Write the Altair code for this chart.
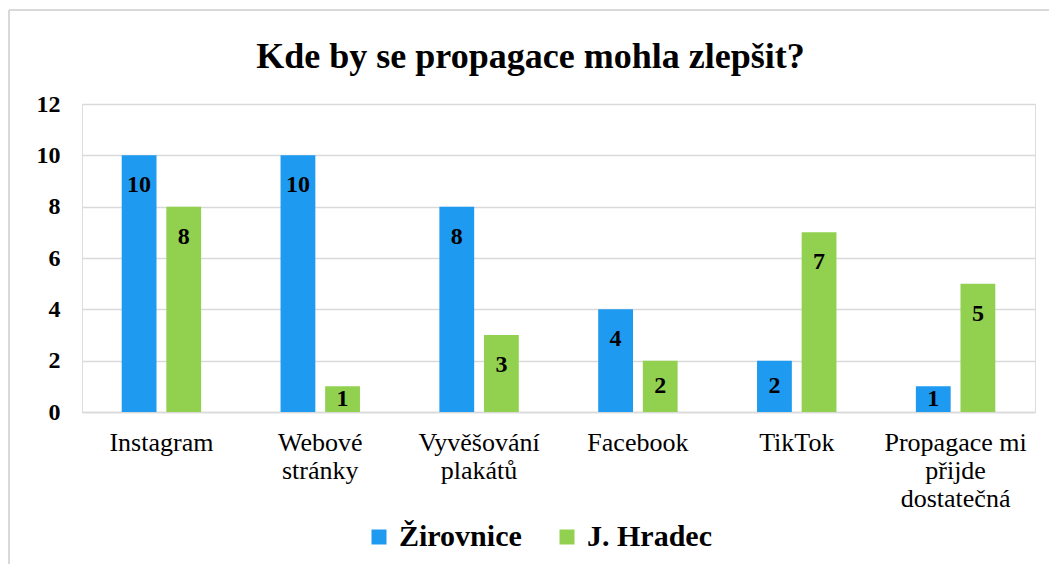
import altair as alt
import pandas as pd

categories = ["Instagram", "Webové stránky", "Vyvěšování plakátů", "Facebook", "TikTok",
              "Propagace mi přijde dostatečná"]
tick_lines = [["Instagram"], ["Webové", "stránky"], ["Vyvěšování", "plakátů"], ["Facebook"],
              ["TikTok"], ["Propagace mi", "přijde", "dostatečná"]]
series = ["Žirovnice", "J. Hradec"]
zirovnice = [10, 10, 8, 4, 2, 1]
hradec = [8, 1, 3, 2, 7, 5]
colors = ["#1e9bf0", "#92d050"]
y_ticks = [0, 2, 4, 6, 8, 10, 12]
title_text = "Kde by se propagace mohla zlepšit?"

rows = []
for i, c in enumerate(categories):
    rows.append({"category": c, "series": series[0], "value": zirovnice[i]})
    rows.append({"category": c, "series": series[1], "value": hradec[i]})
df = pd.DataFrame(rows)

# multi-line tick labels
expr = "datum.label"
for c, lines in zip(reversed(categories), reversed(tick_lines)):
    arr = "[" + ",".join("'" + l + "'" for l in lines) + "]"
    expr = f"datum.label == '{c}' ? {arr} : ({expr})"

FONT = "Liberation Serif"
GRID = "#d9d9d9"

x_enc = alt.X("category:N", sort=categories,
              scale=alt.Scale(paddingInner=0.5, paddingOuter=0.25),
              axis=alt.Axis(title=None, labelAngle=0, labelExpr=expr, labelFont=FONT,
                            labelFontSize=26, labelLineHeight=28, labelPadding=17,
                            ticks=False, domainColor=GRID, domainWidth=1.5,
                            labelColor="black"))
xo_enc = alt.XOffset("series:N", sort=series, scale=alt.Scale(paddingInner=0.22))
y_scale = alt.Scale(domain=[0, 12], nice=False)

base = alt.Chart(df)

bars = base.mark_bar().encode(
    x=x_enc,
    xOffset=xo_enc,
    y=alt.Y("value:Q", scale=y_scale,
            axis=alt.Axis(values=y_ticks, title=None, domain=False, ticks=False,
                          gridColor=GRID, gridWidth=1.5, labelFont=FONT, labelFontSize=24,
                          labelFontWeight="bold", labelPadding=22, labelColor="black")),
    color=alt.Color("series:N", sort=series,
                    scale=alt.Scale(domain=series, range=colors),
                    legend=alt.Legend(title=None, orient="none", direction="horizontal",
                                      legendX=282, legendY=418, symbolType="square",
                                      symbolSize=225, symbolStrokeWidth=0,
                                      labelFont=FONT, labelFontSize=30,
                                      labelFontWeight="bold", labelColor="black",
                                      columnPadding=30, labelOffset=5)),
)

labels = base.transform_calculate(
    labelpos="max(datum.value - 1.17, datum.value / 2)"
).mark_text(font=FONT, fontSize=24, fontWeight="bold", baseline="middle",
            color="black").encode(
    x=alt.X("category:N", sort=categories),
    xOffset=alt.XOffset("series:N", sort=series),
    y=alt.Y("labelpos:Q", scale=y_scale),
    text=alt.Text("value:Q"),
)

frame_data = alt.Data(values=[{"k": 0}])
left_border = alt.Chart(frame_data).mark_rule(color=GRID, strokeWidth=2).encode(
    x=alt.value(-73), y=alt.value(-94), y2=alt.value(480))
top_border = alt.Chart(frame_data).mark_rule(color=GRID, strokeWidth=2).encode(
    x=alt.value(-73), x2=alt.value(980), y=alt.value(-94))

chart = alt.layer(bars, labels, left_border, top_border).properties(
    width=953, height=308,
    title=alt.TitleParams(title_text, font=FONT, fontSize=36, fontWeight="bold",
                          anchor="middle", frame="group", baseline="alphabetic",
                          offset=-95, dx=-28, color="black"),
    autosize=alt.AutoSizeParams(type="none"),
    padding={"left": 74, "top": 96, "right": 14, "bottom": 152},
).configure_view(stroke=None).configure(background="white")

chart.save("out.html", embed_options={"renderer": "svg", "actions": False})
